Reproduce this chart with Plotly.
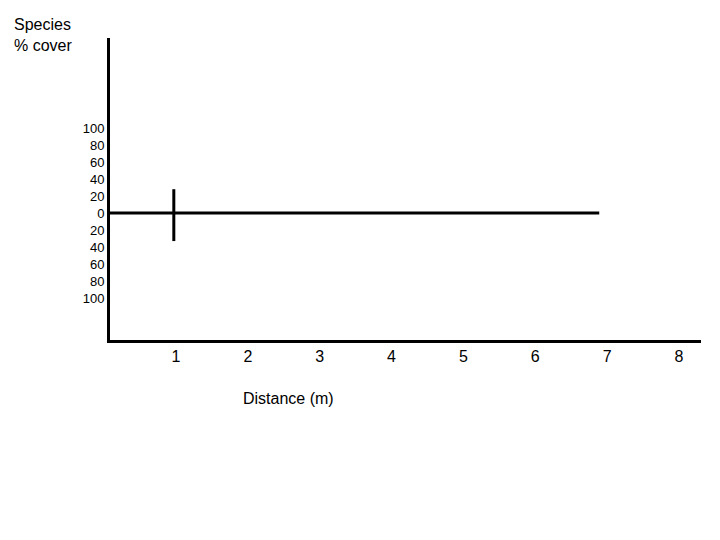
import plotly.graph_objects as go

x_ticks = [1, 2, 3, 4, 5, 6, 7, 8]
y_ticks = [100, 80, 60, 40, 20, 0, -20, -40, -60, -80, -100]
y_labels = [str(abs(v)) for v in y_ticks]
line_x = [0.082, 6.89]
line_y = [0, 0]
mark_x = [0.97, 0.97]
mark_y = [28, -33]

fig = go.Figure()
fig.add_trace(go.Scatter(x=line_x, y=line_y, mode="lines", line=dict(color="black", width=3)))
fig.add_trace(go.Scatter(x=mark_x, y=mark_y, mode="lines", line=dict(color="black", width=3)))

fig.update_layout(
    width=720, height=540, showlegend=False,
    plot_bgcolor="white", paper_bgcolor="white",
    margin=dict(l=102, r=27, t=30, b=208),
    font=dict(family="Liberation Sans, Arial", color="black"),
    xaxis=dict(range=[0.082, 8.306], tickvals=x_ticks, ticktext=[str(v) for v in x_ticks],
               showgrid=False, zeroline=False, showline=True, linecolor="black", linewidth=3,
               ticks="", tickfont=dict(size=16)),
    yaxis=dict(range=[-149.4, 205.9], tickvals=y_ticks, ticktext=y_labels,
               showgrid=False, zeroline=False, showline=True, linecolor="black", linewidth=3,
               ticks="", tickfont=dict(size=13)),
    annotations=[
        dict(text="Species<br>% cover", xref="paper", yref="paper", x=-0.166, y=1.08,
             xanchor="left", yanchor="top", showarrow=False, align="left", font=dict(size=16)),
        dict(text="Distance (m)", x=2.56, y=-149.4, yshift=-58, xanchor="center", yanchor="middle",
             showarrow=False, font=dict(size=16)),
    ],
)
fig.write_html("out.html")
